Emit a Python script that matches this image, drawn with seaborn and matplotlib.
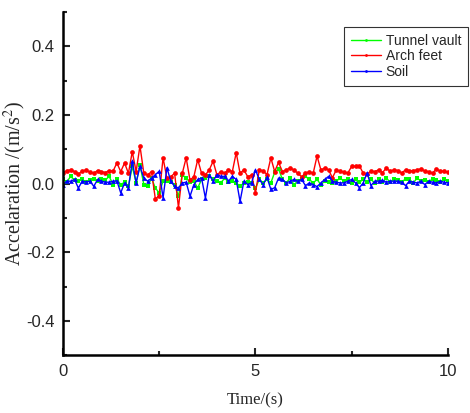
import numpy as np
import pandas as pd
import matplotlib
matplotlib.use("Agg")
import matplotlib.pyplot as plt
import seaborn as sns
from matplotlib.ticker import MultipleLocator

time_s = [round(i * 0.1, 1) for i in range(101)]

arch_feet = [
    0.030, 0.038, 0.040, 0.035, 0.028, 0.036, 0.040, 0.033, 0.030, 0.038,
    0.035, 0.032, 0.038, 0.036, 0.060, 0.035, 0.060, 0.030, 0.093, 0.035,
    0.110, 0.030, 0.025, 0.035, -0.045, -0.035, 0.075, 0.015, 0.020, 0.030,
    -0.070, 0.030, 0.075, 0.010, 0.020, 0.070, 0.030, 0.025, 0.040, 0.065,
    0.025, 0.035, 0.030, 0.040, 0.035, 0.090, 0.030, 0.040, 0.020, 0.025,
    -0.027, 0.040, 0.037, 0.026, 0.075, 0.035, 0.062, 0.035, 0.040, 0.045,
    0.040, 0.030, 0.020, 0.030, 0.035, 0.030, 0.080, 0.040, 0.045, 0.040,
    0.017, 0.040, 0.036, 0.033, 0.031, 0.050, 0.050, 0.052, 0.030, 0.028,
    0.036, 0.035, 0.040, 0.032, 0.045, 0.036, 0.040, 0.038, 0.031, 0.040,
    0.036, 0.038, 0.040, 0.043, 0.036, 0.035, 0.030, 0.043, 0.036, 0.036,
    0.033,
]

soil = [
    -0.003, 0.007, 0.007, 0.012, -0.013, 0.007, 0.005, 0.007, -0.008, 0.012,
    0.007, 0.004, 0.004, 0.007, 0.008, -0.027, 0.002, -0.013, 0.065, 0.002,
    0.050, 0.016, 0.007, 0.016, 0.026, 0.036, -0.042, 0.046, 0.007, -0.008,
    -0.013, 0.002, 0.004, -0.037, -0.003, 0.012, 0.016, -0.042, 0.026, 0.007,
    0.026, 0.021, 0.021, 0.007, 0.021, 0.012, -0.052, 0.007, -0.003, 0.002,
    0.040,
    0.012, -0.003, 0.018, -0.017, -0.012, 0.016, 0.012, 0.002, 0.007, 0.012,
    0.007, 0.012, -0.006, 0.002, -0.003, -0.009, 0.002, 0.012, 0.021, 0.007,
    0.004, 0.002, 0.002, 0.007, 0.012, 0.002, -0.012, 0.002, 0.031, -0.006,
    0.007, 0.007, 0.010, 0.004, 0.007, 0.007, 0.007, 0.004, -0.006, 0.007,
    0.004, 0.002, 0.007, -0.003, 0.007, 0.004, 0.002, 0.007, 0.004, 0.002,
]

tunnel_vault = [
    0.012, 0.005, 0.021, 0.010, 0.007, 0.012, 0.005, 0.010, 0.012, 0.007,
    0.012, 0.010, 0.021, -0.003, 0.012, -0.003, 0.004, -0.008, 0.050, 0.002,
    0.055, -0.003, -0.008, 0.016, -0.013, -0.027, 0.007, 0.007, 0.004, -0.003,
    -0.037, 0.026, 0.016, 0.004, 0.007, -0.013, 0.012, 0.016, 0.021, 0.012,
    0.007, 0.002, 0.016, 0.004, 0.007, 0.002, -0.008, 0.002, 0.004, 0.002,
    -0.013,
    0.012, 0.002, 0.012, 0.002, 0.033, 0.043, 0.012, 0.002, 0.016, -0.003,
    0.007, 0.012, 0.021, 0.012, 0.002, 0.012, -0.003, 0.007, 0.004, 0.002,
    0.007, 0.016, 0.007, 0.012, 0.002, 0.012, 0.004, 0.012, 0.004, 0.012,
    0.002, 0.014, 0.004, 0.016, 0.004, 0.014, 0.010, 0.004, 0.014, 0.012,
    0.002, 0.016, 0.007, 0.010, 0.004, 0.014, 0.010, 0.004, 0.012, 0.008,
]

series_names = ["Tunnel vault", "Arch feet", "Soil"]
series_values = [tunnel_vault, arch_feet, soil]
series_colors = ["#00ff00", "#ff0000", "#0000ff"]
series_markers = ["s", "o", "^"]

x_ticks = [0, 5, 10]
y_ticks = [-0.4, -0.2, 0.0, 0.2, 0.4]
y_tick_labels = ["-0.4", "-0.2", "0.0", "0.2", "0.4"]

sns.set_style("ticks")
plt.rcParams["font.family"] = ["Liberation Sans", "DejaVu Sans"]
plt.rcParams["mathtext.fontset"] = "stix"

fig = plt.figure(figsize=(4.70, 4.13), dpi=100)
ax = fig.add_axes([0.134, 0.140, 0.819, 0.831])

for name, vals, col, mk in zip(series_names, series_values, series_colors, series_markers):
    df = pd.DataFrame({"t": time_s, "a": vals})
    sns.lineplot(data=df, x="t", y="a", ax=ax, color=col, marker=mk,
                 markersize=3.4, markeredgewidth=0, linewidth=1.0,
                 label=name, estimator=None)

ax.set_xlim(0, 10)
ax.set_ylim(-0.5, 0.5)
ax.set_xticks(x_ticks)
ax.set_xticklabels([str(v) for v in x_ticks])
ax.set_yticks(y_ticks)
ax.set_yticklabels(y_tick_labels)
ax.xaxis.set_minor_locator(MultipleLocator(2.5))
ax.yaxis.set_minor_locator(MultipleLocator(0.1))

ax.tick_params(axis="both", which="major", direction="in", length=5, width=1.5,
               labelsize=12, pad=6)
ax.tick_params(axis="both", which="minor", direction="in", length=3, width=1.5)
ax.tick_params(axis="x", which="major", pad=6)

for side in ["top", "right"]:
    ax.spines[side].set_visible(False)
for side in ["left", "bottom"]:
    ax.spines[side].set_linewidth(1.8)
    ax.spines[side].set_color("black")

ax.set_xlabel("Time/(s)", family="Liberation Serif", fontsize=12, labelpad=10)
ax.set_ylabel(r"Accelaration /(m/s$^2$)", family="Liberation Serif",
              fontsize=14.5)
ax.yaxis.set_label_coords(-0.09, 0.5)

leg = ax.legend(loc="upper right", bbox_to_anchor=(468 / 470, 1 - 27 / 413),
                bbox_transform=fig.transFigure, frameon=True, fancybox=False,
                fontsize=10, handlelength=2.2, handletextpad=0.3,
                borderpad=0.5, labelspacing=0.1, borderaxespad=0)
leg.get_frame().set_edgecolor("black")
leg.get_frame().set_linewidth(0.8)
for h in leg.legend_handles:
    h.set_marker(".")
    h.set_markersize(4)

fig.savefig("out.png", dpi=100)
